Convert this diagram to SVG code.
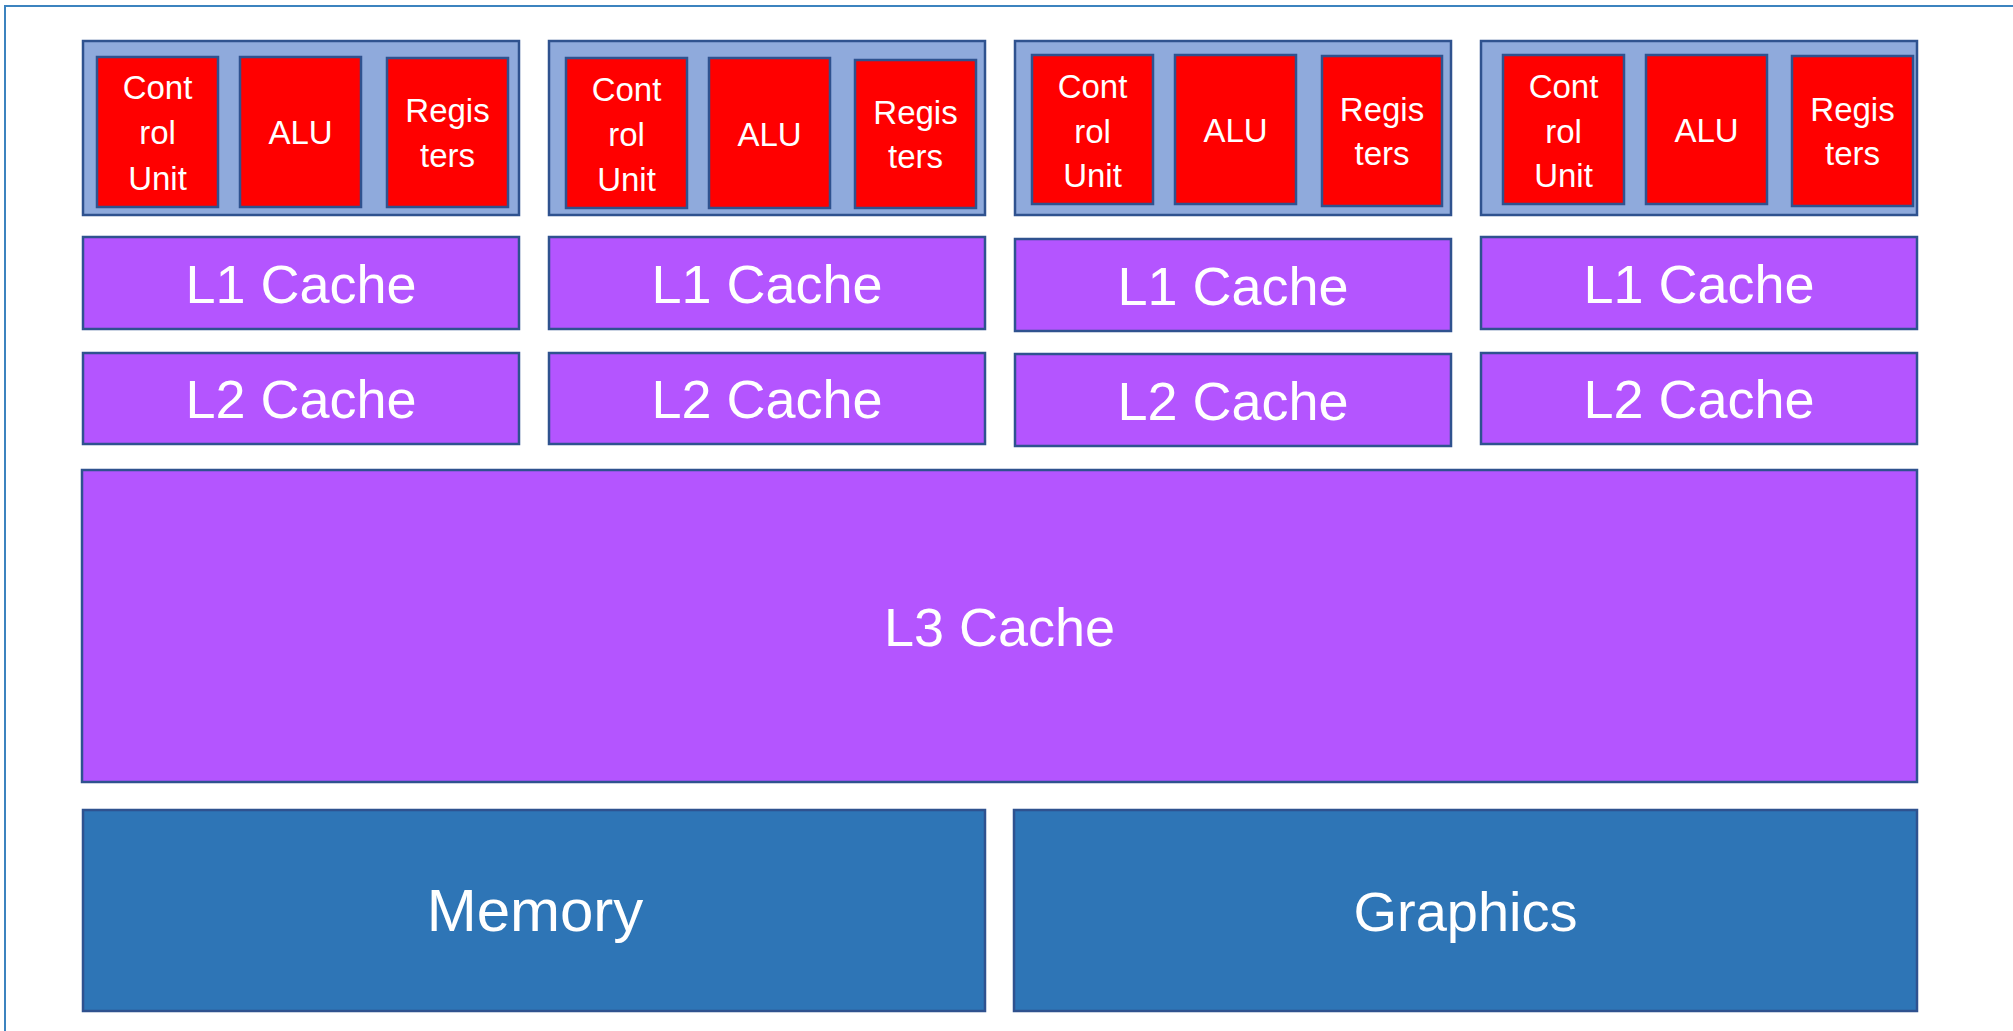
<svg xmlns="http://www.w3.org/2000/svg" width="2013" height="1031" viewBox="0 0 2013 1031">
<style>
.core{fill:#8FAADC;stroke:#2F528F;stroke-width:2.5}
.unit{fill:#FF0000;stroke:#2F528F;stroke-width:2.5}
.cache{fill:#B455FF;stroke:#2F528F;stroke-width:2.5}
.blk{fill:#2E75B6;stroke:#2F528F;stroke-width:2.5}
text{font-family:"Liberation Sans",Arial,sans-serif;fill:#FFFFFF;text-anchor:middle}
.s{font-size:33px}
.m{font-size:54px}
.b{font-size:56px}
.bm{font-size:60px}
</style>
<rect x="5" y="6" width="2100" height="1100" fill="#FFFFFF" stroke="#3C83BF" stroke-width="2"/>
<g id="connectors"></g>

<g id="core1">
<rect class="core" x="83" y="41" width="436" height="174"/>
<g id="core1-cu"><rect class="unit" x="97" y="57" width="121" height="150"/><text class="s" x="157.5" y="99">Cont</text><text class="s" x="157.5" y="144">rol</text><text class="s" x="157.5" y="190">Unit</text></g>
<g id="core1-alu"><rect class="unit" x="240" y="57" width="121" height="150"/><text class="s" x="300.5" y="144">ALU</text></g>
<g id="core1-reg"><rect class="unit" x="387" y="58" width="121" height="149"/><text class="s" x="447.5" y="122">Regis</text><text class="s" x="447.5" y="167">ters</text></g>
</g>
<g id="core2">
<rect class="core" x="549" y="41" width="436" height="174"/>
<g id="core2-cu"><rect class="unit" x="566" y="58" width="121" height="150"/><text class="s" x="626.5" y="101">Cont</text><text class="s" x="626.5" y="146">rol</text><text class="s" x="626.5" y="191">Unit</text></g>
<g id="core2-alu"><rect class="unit" x="709" y="58" width="121" height="150"/><text class="s" x="769.5" y="146">ALU</text></g>
<g id="core2-reg"><rect class="unit" x="855" y="60" width="121" height="148"/><text class="s" x="915.5" y="124">Regis</text><text class="s" x="915.5" y="168">ters</text></g>
</g>
<g id="core3">
<rect class="core" x="1015" y="41" width="436" height="174"/>
<g id="core3-cu"><rect class="unit" x="1032" y="55" width="121" height="149"/><text class="s" x="1092.5" y="98">Cont</text><text class="s" x="1092.5" y="143">rol</text><text class="s" x="1092.5" y="187">Unit</text></g>
<g id="core3-alu"><rect class="unit" x="1175" y="55" width="121" height="149"/><text class="s" x="1235.5" y="142">ALU</text></g>
<g id="core3-reg"><rect class="unit" x="1322" y="56" width="120" height="150"/><text class="s" x="1382" y="121">Regis</text><text class="s" x="1382" y="165">ters</text></g>
</g>
<g id="core4">
<rect class="core" x="1481" y="41" width="436" height="174"/>
<g id="core4-cu"><rect class="unit" x="1503" y="55" width="121" height="149"/><text class="s" x="1563.5" y="98">Cont</text><text class="s" x="1563.5" y="143">rol</text><text class="s" x="1563.5" y="187">Unit</text></g>
<g id="core4-alu"><rect class="unit" x="1646" y="55" width="121" height="149"/><text class="s" x="1706.5" y="142">ALU</text></g>
<g id="core4-reg"><rect class="unit" x="1792" y="56" width="121" height="150"/><text class="s" x="1852.5" y="121">Regis</text><text class="s" x="1852.5" y="165">ters</text></g>
</g>

<g id="l1-1"><rect class="cache" x="83" y="237" width="436" height="92"/><text class="m" x="301" y="303">L1 Cache</text></g>
<g id="l1-2"><rect class="cache" x="549" y="237" width="436" height="92"/><text class="m" x="767" y="303">L1 Cache</text></g>
<g id="l1-3"><rect class="cache" x="1015" y="239" width="436" height="92"/><text class="m" x="1233" y="305">L1 Cache</text></g>
<g id="l1-4"><rect class="cache" x="1481" y="237" width="436" height="92"/><text class="m" x="1699" y="303">L1 Cache</text></g>

<g id="l2-1"><rect class="cache" x="83" y="353" width="436" height="91"/><text class="m" x="301" y="418">L2 Cache</text></g>
<g id="l2-2"><rect class="cache" x="549" y="353" width="436" height="91"/><text class="m" x="767" y="418">L2 Cache</text></g>
<g id="l2-3"><rect class="cache" x="1015" y="354" width="436" height="92"/><text class="m" x="1233" y="420">L2 Cache</text></g>
<g id="l2-4"><rect class="cache" x="1481" y="353" width="436" height="91"/><text class="m" x="1699" y="418">L2 Cache</text></g>

<g id="l3"><rect class="cache" x="82" y="470" width="1835" height="312"/><text class="m" x="999.5" y="646">L3 Cache</text></g>

<g id="memory"><rect class="blk" x="83" y="810" width="902" height="201"/><text class="bm" x="535" y="931">Memory</text></g>
<g id="graphics"><rect class="blk" x="1014" y="810" width="903" height="201"/><text class="b" x="1465.5" y="931">Graphics</text></g>
</svg>
